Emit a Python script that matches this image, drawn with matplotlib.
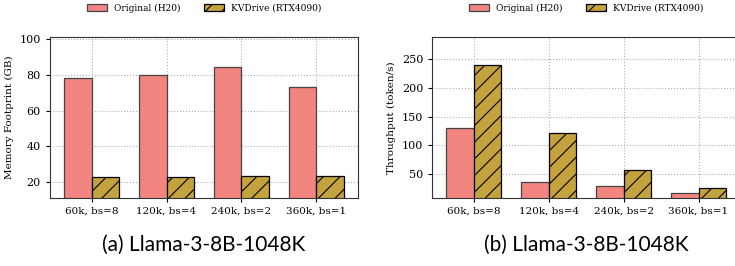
import numpy as np
import matplotlib
matplotlib.use("Agg")
import matplotlib.pyplot as plt

categories = ["60k, bs=8", "120k, bs=4", "240k, bs=2", "360k, bs=1"]
mem_original = [78.2, 80.0, 84.5, 73.5]
mem_kvdrive = [22.6, 23.0, 23.4, 23.4]
thr_original = [131, 37, 30, 17]
thr_kvdrive = [240, 122, 57, 26]
series_labels = ["Original (H20)", "KVDrive (RTX4090)"]
captions = ["(a) Llama-3-8B-1048K", "(b) Llama-3-8B-1048K"]

PINK = "#F28580"
GOLD = "#C4A23E"

plt.rcParams["font.family"] = ["DejaVu Serif"]
plt.rcParams["hatch.linewidth"] = 0.8

fig = plt.figure(figsize=(7.35, 2.66), dpi=100)
ax1 = fig.add_axes([0.068, 0.256, 0.419, 0.605])
ax2 = fig.add_axes([0.588, 0.256, 0.419, 0.605])

x = np.arange(len(categories))
w = 0.365


def draw(ax, orig, kv, ylabel, ylim, yticks, caption):
    ax.grid(True, linestyle=":", color="#b0b0b0", linewidth=0.8, zorder=0)
    ax.set_axisbelow(True)
    ax.bar(x - w / 2, orig, w, color=PINK, edgecolor="#444444", linewidth=0.9,
           label=series_labels[0], zorder=2)
    ax.bar(x + w / 2, kv, w, color=GOLD, edgecolor="black", linewidth=0.9,
           hatch="//", label=series_labels[1], zorder=2)
    ax.set_xlim(-0.556, 3.556)
    ax.set_ylim(*ylim)
    ax.set_yticks(yticks)
    ax.set_xticks(x)
    ax.set_xticklabels(categories, fontsize=7.5)
    ax.tick_params(axis="y", labelsize=8, length=3)
    ax.tick_params(axis="x", length=3)
    ax.set_ylabel(ylabel, fontsize=7.5)
    for s in ax.spines.values():
        s.set_color("#333333")
    ax.legend(loc="center", bbox_to_anchor=(0.5, 1.18), ncol=2, frameon=False,
              fontsize=6.5, handlelength=2.2, handleheight=0.9, columnspacing=2.6)
    ax.text(0.5, -0.29, caption, transform=ax.transAxes, ha="center", va="center",
            fontsize=15, family="Lato", color="black")


draw(ax1, mem_original, mem_kvdrive, "Memory Footprint (GB)", (11, 101.3),
     [20, 40, 60, 80, 100], captions[0])
draw(ax2, thr_original, thr_kvdrive, "Throughput (token/s)", (9, 288),
     [50, 100, 150, 200, 250], captions[1])

fig.savefig("out.png", dpi=100)
